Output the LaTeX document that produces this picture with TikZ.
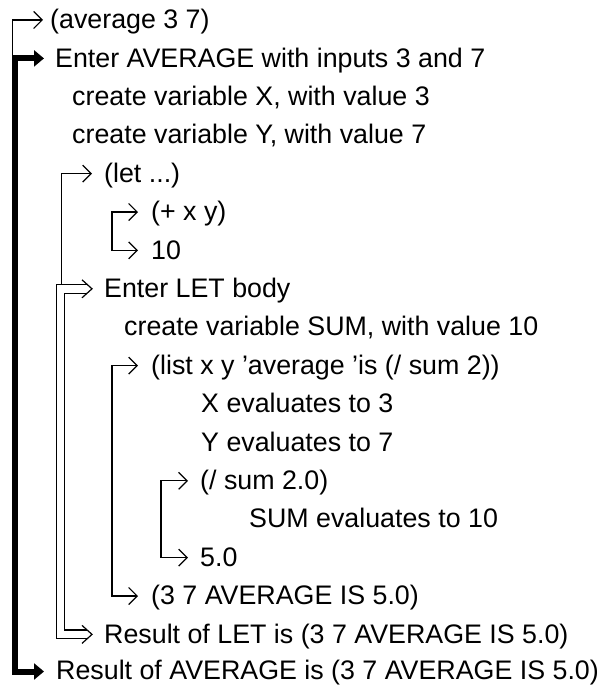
\documentclass[tikz,border=0pt]{standalone}
\usepackage{fontspec}
\setmainfont{Liberation Sans}
\usetikzlibrary{arrows.meta}
\begin{document}
\begin{tikzpicture}[x=1pt,y=-1pt,
  txt/.style={anchor=base west,inner sep=0pt,font=\fontsize{26.8}{32}\selectfont},
  thinline/.style={line width=1.2pt},
  barb/.tip={Straight Barb[length=8.5pt,width=17pt,line cap=butt,line join=miter]},
  thinarrow/.style={thinline,-barb},
  twoarrow/.style={thinline,barb-barb},
  heavy/.style={line width=6pt,{Triangle[length=10pt,width=16pt]}-{Triangle[length=10pt,width=16pt]}},
  dbl/.style={thinline,double,double distance=7.5pt}
]
\useasboundingbox (0,0) rectangle (601,685);

% text rows (baseline = arrow row + 9)
\node[txt] (n1)  at (50,28.5)    {(average 3 7)};
\node[txt] (n2)  at (55,67)      {Enter AVERAGE with inputs 3 and 7};
\node[txt] (n3)  at (72,105.4)   {create variable X, with value 3};
\node[txt] (n4)  at (72,143.8)   {create variable Y, with value 7};
\node[txt] (n5)  at (104,182.2)  {(let ...)};
\node[txt] (n6)  at (151,220.6)  {(+ x y)};
\node[txt] (n7)  at (151,259)    {10};
\node[txt] (n8)  at (104,297.4)  {Enter LET body};
\node[txt] (n9)  at (124,335.8)  {create variable SUM, with value 10};
\node[txt] (n10) at (151,374.2)  {(list x y 'average 'is (/ sum 2))};
\node[txt] (n11) at (201,412.6)  {X evaluates to 3};
\node[txt] (n12) at (201,451)    {Y evaluates to 7};
\node[txt] (n13) at (200,489.4)  {(/ sum 2.0)};
\node[txt] (n14) at (249,527.8)  {SUM evaluates to 10};
\node[txt] (n15) at (200,566.2)  {5.0};
\node[txt] (n16) at (151,604.6)  {(3 7 AVERAGE IS 5.0)};
\node[txt] (n17) at (104,643)    {Result of LET is (3 7 AVERAGE IS 5.0)};
\node[txt] (n18) at (56,679.2)   {Result of AVERAGE is (3 7 AVERAGE IS 5.0)};

% arrow tips / corners
\coordinate (t1)  at (43,20);
\coordinate (s1)  at (12.3,55.4);
\coordinate (t2)  at (44,58.4);
\coordinate (t18) at (44,671.5);
\coordinate (t5)  at (92,173.6);
\coordinate (s5)  at (61.5,284.2);
\coordinate (t6)  at (138,212);
\coordinate (t7)  at (138,250.4);
\coordinate (d8)  at (87,288.8);
\coordinate (d17) at (87,634.4);
\coordinate (t8)  at (92,288.8);
\coordinate (t17) at (92,634.4);
\coordinate (t10) at (138,365.6);
\coordinate (t16) at (138,596);
\coordinate (t13) at (188,480.8);
\coordinate (t15) at (188,557.6);

% double connector Enter LET / Result of LET
\draw[dbl] (d8) -- (60.5,288.8) -- (60.5,634.4) -- (d17);
\draw[thinline,line join=miter] ([shift={(-10,-9)}]t8) -- (t8) -- ([shift={(-10,9)}]t8);
\draw[thinline,line join=miter] ([shift={(-10,-9)}]t17) -- (t17) -- ([shift={(-10,9)}]t17);

% thick connector
\draw[heavy] (t2) -- (15,58.4) -- (15,671.5) -- (t18);

% thin connectors
\draw[thinarrow] (s1) |- (t1);
\draw[thinarrow] (s5) |- (t5);
\draw[twoarrow] (t6) -- (112,212) -- (112,250.4) -- (t7);
\draw[twoarrow] (t10) -- (112,365.6) -- (112,596) -- (t16);
\draw[twoarrow] (t13) -- (161,480.8) -- (161,557.6) -- (t15);
\end{tikzpicture}
\end{document}
